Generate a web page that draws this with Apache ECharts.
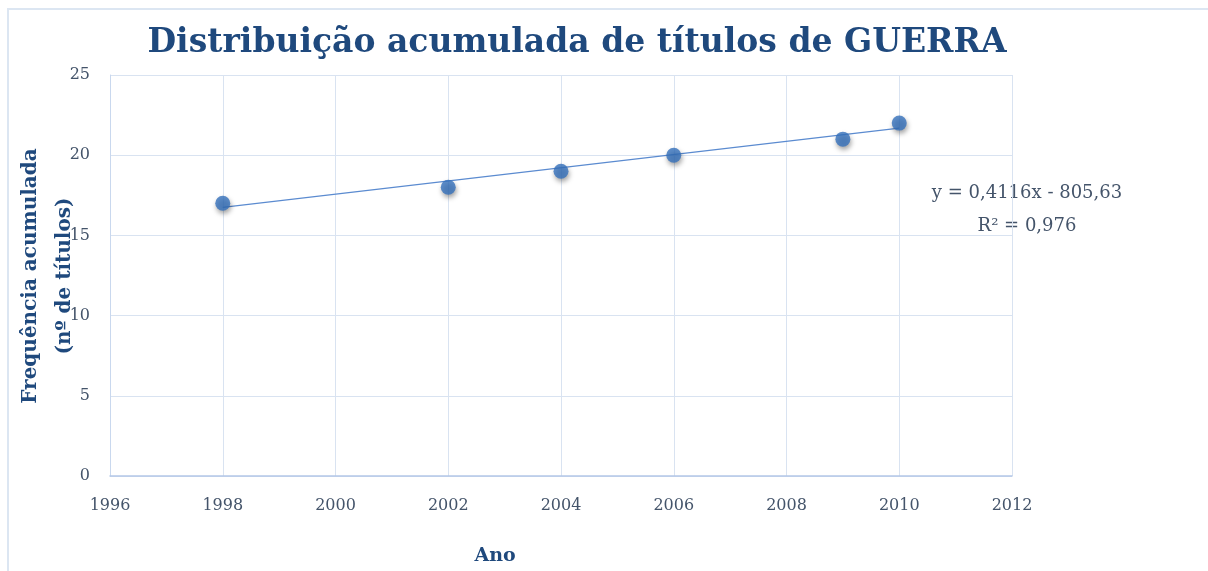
<!DOCTYPE html>
<html><head><meta charset="utf-8">
<script src="https://cdn.jsdelivr.net/npm/echarts@6/dist/echarts.min.js"></script>
<style>html,body{margin:0;padding:0;background:#fff}#c{width:1208px;height:571px}</style>
</head><body><div id="c"></div>
<script>
const years = [1998, 2002, 2004, 2006, 2009, 2010];
const values = [17, 18, 19, 20, 21, 22];
const trendYears = [1998, 2010];
const trendValues = [16.75, 21.69];
const titleText = 'Distribuição acumulada de títulos de GUERRA';
const yName = 'Frequência acumulada\n(nº de títulos)';
const xName = 'Ano';
const eqLines = ['y = 0,4116x - 805,63', 'R² = 0,976'];

const serif = '"DejaVu Serif", "Liberation Serif", serif';
const dark = '#1F497D';
const tickCol = '#44546A';
const gridCol = '#D9E3F1';
const chart = echarts.init(document.getElementById('c'));
chart.setOption({
  animation: false,
  title: {text: titleText, left: 572, top: 22, textAlign: 'center',
    textStyle: {fontFamily: serif, fontSize: 33, fontWeight: 'bold', color: dark}},
  grid: {left: 110, right: 196, top: 75, bottom: 95},
  xAxis: {type: 'value', min: 1996, max: 2012, interval: 2,
    axisLine: {show: true, lineStyle: {color: '#B4C7E7', width: 1.5}},
    axisTick: {show: false},
    splitLine: {show: true, lineStyle: {color: gridCol}},
    axisLabel: {margin: 22, fontFamily: serif, fontSize: 16, color: tickCol, formatter: v => String(v)}},
  yAxis: {type: 'value', min: 0, max: 25, interval: 5,
    axisLine: {show: true, lineStyle: {color: '#C9D8EE', width: 1}},
    axisTick: {show: false},
    splitLine: {show: true, lineStyle: {color: gridCol}},
    axisLabel: {margin: 20, fontFamily: serif, fontSize: 16, color: tickCol, formatter: v => String(v)}},
  graphic: [
    {type: 'rect', shape: {x: 8, y: 9, width: 1220, height: 600},
      style: {fill: 'none', stroke: '#DCE6F2', lineWidth: 2}, silent: true},
    {type: 'text', x: 48, y: 276, rotation: Math.PI / 2,
      style: {text: yName, fontFamily: serif, fontSize: 20, fontWeight: 'bold', fill: dark,
        align: 'center', verticalAlign: 'middle', lineHeight: 34}},
    {type: 'text', x: 495, y: 556,
      style: {text: xName, fontFamily: serif, fontSize: 19, fontWeight: 'bold', fill: dark,
        align: 'center', verticalAlign: 'middle'}},
    {type: 'text', x: 1027, y: 193,
      style: {text: eqLines[0], fontFamily: serif, fontSize: 18, fill: tickCol,
        align: 'center', verticalAlign: 'middle'}},
    {type: 'text', x: 1027, y: 226,
      style: {text: eqLines[1], fontFamily: serif, fontSize: 18, fill: tickCol,
        align: 'center', verticalAlign: 'middle'}}
  ],
  series: [
    {type: 'line', data: trendYears.map((y, i) => [y, trendValues[i]]), symbol: 'none',
      lineStyle: {color: '#5B8BD0', width: 1.2}, z: 2},
    {type: 'scatter', data: years.map((y, i) => [y, values[i]]), symbolSize: 15,
      itemStyle: {color: '#3470BC', shadowColor: 'rgba(0,0,0,0.45)', shadowBlur: 5, shadowOffsetX: 1, shadowOffsetY: 3}, z: 3}
  ]
});
</script></body></html>
